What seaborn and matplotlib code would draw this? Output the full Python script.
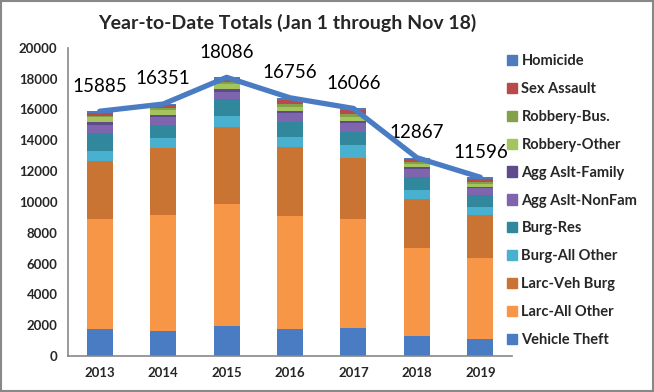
import numpy as np
import pandas as pd
import matplotlib
matplotlib.use('Agg')
import matplotlib.pyplot as plt
import seaborn as sns
from matplotlib.patches import Rectangle, Patch

# data
years = ['2013', '2014', '2015', '2016', '2017', '2018', '2019']
totals = [15885, 16351, 18086, 16756, 16066, 12867, 11596]

vehicle_theft = [1730, 1645, 1970, 1735, 1840, 1300, 1085]
larc_all_other = [7150, 7490, 7900, 7375, 7040, 5730, 5255]
larc_veh_burg = [3780, 4370, 4980, 4440, 3955, 3145, 2815]
burg_all_other = [670, 670, 750, 690, 865, 605, 545]
burg_res = [1170, 825, 1060, 935, 867, 820, 755]
agg_nonfam = [500, 500, 500, 585, 583, 520, 435]
agg_family = [175, 150, 155, 150, 110, 130, 105]
robbery_other = [325, 325, 345, 280, 280, 220, 175]
robbery_bus = [100, 110, 110, 150, 150, 105, 90]
sex_assault = [200, 200, 230, 300, 284, 195, 240]
homicide = [85, 66, 86, 116, 92, 97, 96]

series = {
    'Vehicle Theft': vehicle_theft,
    'Larc-All Other': larc_all_other,
    'Larc-Veh Burg': larc_veh_burg,
    'Burg-All Other': burg_all_other,
    'Burg-Res': burg_res,
    'Agg Aslt-NonFam': agg_nonfam,
    'Agg Aslt-Family': agg_family,
    'Robbery-Other': robbery_other,
    'Robbery-Bus.': robbery_bus,
    'Sex Assault': sex_assault,
    'Homicide': homicide,
}
colors = {
    'Vehicle Theft': '#4A7CC4',
    'Larc-All Other': '#F79646',
    'Larc-Veh Burg': '#C97433',
    'Burg-All Other': '#4AB0D0',
    'Burg-Res': '#31879C',
    'Agg Aslt-NonFam': '#7E65AD',
    'Agg Aslt-Family': '#5F4B8B',
    'Robbery-Other': '#A3C55B',
    'Robbery-Bus.': '#83A04A',
    'Sex Assault': '#B84A4A',
    'Homicide': '#4F7BBD',
}

sns.set_theme(style='white')
plt.rcParams['font.family'] = ['Lato', 'DejaVu Sans']

fig = plt.figure(figsize=(6.54, 3.92), dpi=100)
ax = fig.add_axes([0.104, 0.092, 0.679, 0.786])

x = np.arange(len(years))
bottom = np.zeros(len(years))
for name, vals in series.items():
    ax.bar(x, vals, bottom=bottom, width=0.41, color=colors[name], linewidth=0)
    bottom += np.array(vals)

df = pd.DataFrame({'x': x, 'total': totals})
sns.lineplot(data=df, x='x', y='total', ax=ax, color='#4A7CC4', linewidth=3.8,
             zorder=5, legend=False)

for xi, t in zip(x, totals):
    ax.annotate(f'{t}', (xi, t), xytext=(0, 12), textcoords='offset points',
                ha='center', va='bottom', fontsize=13.5, color='black')

ax.set_xlim(-0.5, len(years) - 0.5)
ax.set_ylim(0, 20000)
ax.set_yticks(np.arange(0, 20001, 2000))
ax.set_xticks(x)
ax.set_xticklabels(years, fontsize=9.5, fontweight='bold')
ax.set_xticks(np.arange(-0.5, len(years), 1), minor=True)
ax.tick_params(axis='x', which='major', length=0, pad=8)
ax.tick_params(axis='x', which='minor', length=4, color='#888888', direction='out')
ax.tick_params(axis='y', length=4, color='#888888', direction='out', labelsize=9.5)
for lbl in ax.get_yticklabels():
    lbl.set_fontweight('bold')
ax.set_xlabel('')
ax.set_ylabel('')
for s in ['top', 'right']:
    ax.spines[s].set_visible(False)
for s in ['left', 'bottom']:
    ax.spines[s].set_color('#888888')
    ax.spines[s].set_linewidth(1.2)

names = list(series)[::-1]
handles = [Patch(color=colors[n]) for n in names]
leg = fig.legend(handles, names, loc='upper left',
                 bbox_to_anchor=(0.755, 0.895), frameon=False, fontsize=10.5,
                 handlelength=0.7, handleheight=0.7, handletextpad=0.3,
                 labelspacing=0.95)
for t in leg.get_texts():
    t.set_fontweight('bold')

fig.text(0.44, 0.942, 'Year-to-Date Totals (Jan 1 through Nov 18)', ha='center',
         va='center', fontsize=14, fontweight='bold')

fig.patches.append(Rectangle((0.002, 0.003), 0.996, 0.994, transform=fig.transFigure,
                             fill=False, edgecolor='#888888', linewidth=1.5))

fig.savefig('out.png', dpi=100)
